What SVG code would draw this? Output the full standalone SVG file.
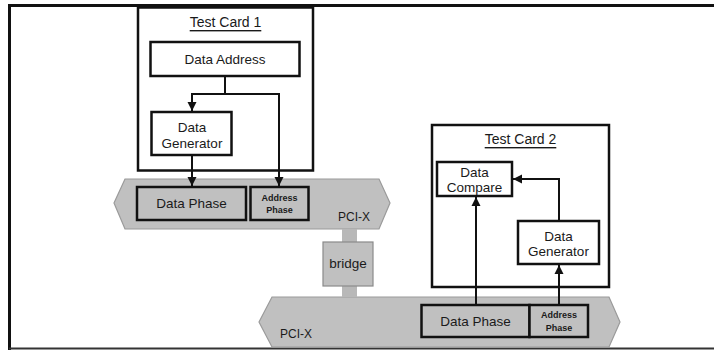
<svg xmlns="http://www.w3.org/2000/svg" width="714" height="350" viewBox="0 0 714 350">
<style>
text{font-family:"Liberation Sans",Arial,sans-serif;fill:#1a1a1a;text-anchor:middle;dominant-baseline:central}
.t{font-size:13.5px}
.h{font-size:14px;text-decoration:underline}
.s{font-size:9px;font-weight:bold}
.p{font-size:12px}
.box{fill:#fff;stroke:#111;stroke-width:2.5}
.gbox{fill:#c0c0c0;stroke:#111;stroke-width:2.5}
.bus{fill:#c0c0c0;stroke:#9a9a9a;stroke-width:1.2}
.con{fill:none;stroke:#111;stroke-width:2}
</style>
<defs>
<marker id="ah" markerUnits="userSpaceOnUse" markerWidth="9" markerHeight="10" refX="9" refY="4.5" orient="auto" viewBox="0 0 9 9">
<path d="M0,0 L9,4.5 L0,9 Z" fill="#111"/>
</marker>
</defs>
<g id="frame">
<path d="M9.5,350 V5.5 H714" fill="none" stroke="#111" stroke-width="3"/>
<line x1="9" y1="348.5" x2="714" y2="348.5" stroke="#333" stroke-width="2"/>
</g>
<g id="bus1">
<polygon class="bus" points="114,203 125,179 379,179 390,203 379,229 125,229"/>
<text class="p" x="354" y="217">PCI-X</text>
</g>
<g id="bus2">
<polygon class="bus" points="259,322 272,297 609,297 620,322 609,347 272,347"/>
<text class="p" x="296" y="334">PCI-X</text>
</g>
<g id="bridge">
<rect x="342" y="229" width="15" height="68" fill="#b8b8b8"/>
<rect x="323" y="242" width="50" height="44" fill="#c0c0c0" stroke="#8a8a8a" stroke-width="1.2"/>
<text class="t" x="348" y="263">bridge</text>
</g>
<g id="testcard1">
<rect class="box" x="138" y="7.5" width="175" height="163"/>
<text class="h" x="225.5" y="22">Test Card 1</text>
</g>
<g id="dataaddress">
<rect class="box" x="150.5" y="42" width="149" height="34"/>
<text class="t" x="225" y="59">Data Address</text>
</g>
<g id="datagenerator1">
<rect class="box" x="151.5" y="112" width="80" height="43"/>
<text class="t" x="192" y="127">Data</text>
<text class="t" x="192" y="143">Generator</text>
</g>
<g id="dataphase1">
<rect class="gbox" x="137" y="187" width="109" height="33"/>
<text class="t" x="191.5" y="203.5">Data Phase</text>
</g>
<g id="addressphase1">
<rect class="gbox" x="250.5" y="187" width="58" height="33"/>
<text class="s" x="279.5" y="198">Address</text>
<text class="s" x="279.5" y="210">Phase</text>
</g>
<g id="testcard2">
<rect class="box" x="432" y="125" width="177" height="162"/>
<text class="h" x="520.5" y="139">Test Card 2</text>
</g>
<g id="datacompare">
<rect class="box" x="437" y="162" width="75" height="34"/>
<text class="t" x="474.5" y="172">Data</text>
<text class="t" x="474.5" y="187">Compare</text>
</g>
<g id="datagenerator2">
<rect class="box" x="518" y="221" width="81" height="43"/>
<text class="t" x="558.5" y="236">Data</text>
<text class="t" x="558.5" y="251">Generator</text>
</g>
<g id="dataphase2">
<rect class="gbox" x="421.5" y="305" width="108" height="32"/>
<text class="t" x="475.5" y="321">Data Phase</text>
</g>
<g id="addressphase2">
<rect class="gbox" x="529.5" y="305" width="58.5" height="32"/>
<text class="s" x="559" y="315">Address</text>
<text class="s" x="559" y="328">Phase</text>
</g>
<g id="connectors">
<path class="con" d="M225,76 V94 H192 V111" marker-end="url(#ah)"/>
<path class="con" d="M225,94 H279 V186" marker-end="url(#ah)"/>
<path class="con" d="M192,155 V186" marker-end="url(#ah)"/>
<path class="con" d="M476,304 V197" marker-end="url(#ah)"/>
<path class="con" d="M559,304 V265" marker-end="url(#ah)"/>
<path class="con" d="M559,221 V179 H513" marker-end="url(#ah)"/>
</g>
</svg>
